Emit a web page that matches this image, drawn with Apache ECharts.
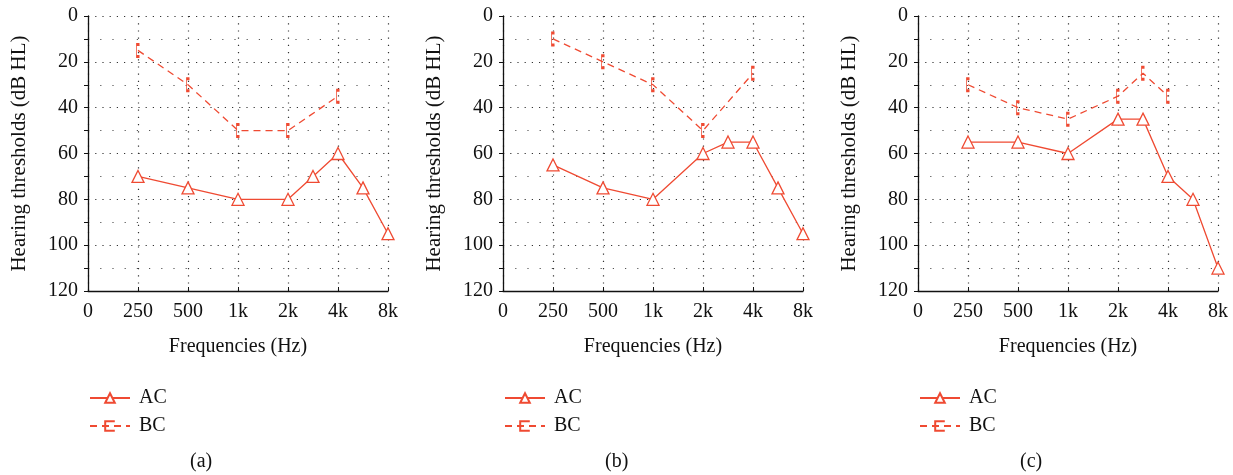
<!DOCTYPE html>
<html>
<head>
<meta charset="utf-8">
<script src="https://cdn.jsdelivr.net/npm/echarts@6/dist/echarts.min.js"></script>
<style>html,body{margin:0;padding:0;background:#fff;}#c{width:1233px;height:475px;}</style>
</head>
<body>
<div id="c"></div>
<script>
// Tick labels for the frequency axis (positions 0..6)
var freqLabels = ['0', '250', '500', '1k', '2k', '4k', '8k'];
// Frequency positions on the axis: 250,500,1k,2k,3k,4k,6k,8k
var acFreqPos = [1, 2, 3, 4, 4.5, 5, 5.5, 6];
var bcFreqPosAB = [1, 2, 3, 4, 5];
var bcFreqPosC = [1, 2, 3, 4, 4.5, 5];

var acA = [70, 75, 80, 80, 70, 60, 75, 95];
var bcA = [15, 30, 50, 50, 35];
var acB = [65, 75, 80, 60, 55, 55, 75, 95];
var bcB = [10, 20, 30, 50, 25];
var acC = [55, 55, 60, 45, 45, 70, 80, 110];
var bcC = [30, 40, 45, 35, 25, 35];
var captions = ['(a)', '(b)', '(c)'];

var RED = '#EF4A32';
var FONT = 'Liberation Serif';
var BRACKET = 'path://M3,0 L0,0 L0,14 L3,14';

function pairs(xs, ys) { return xs.map(function (x, i) { return [x, ys[i]]; }); }

var panels = [
  { left: 88, ac: acA, bc: bcA, bcPos: bcFreqPosAB },
  { left: 503, ac: acB, bc: bcB, bcPos: bcFreqPosAB },
  { left: 918, ac: acC, bc: bcC, bcPos: bcFreqPosC }
];

var grids = [], xAxes = [], yAxes = [], series = [], legends = [], graphics = [];
panels.forEach(function (p, i) {
  grids.push({ left: p.left, top: 16, width: 300, height: 275 });
  xAxes.push({
    gridIndex: i, type: 'value', min: 0, max: 6, interval: 1,
    name: 'Frequencies (Hz)', nameLocation: 'middle', nameGap: 46,
    nameTextStyle: { fontFamily: FONT, fontSize: 20, color: '#111' },
    axisLine: { onZero: false, lineStyle: { color: '#111', width: 1.3 } },
    axisTick: { inside: true, length: 4, lineStyle: { color: '#111' } },
    axisLabel: { fontFamily: FONT, fontSize: 20, color: '#111', margin: 11,
      formatter: function (v) { return freqLabels[v]; } },
    splitLine: { show: true, lineStyle: { color: '#333', type: [1.2, 6], width: 1.2 } }
  });
  yAxes.push({
    gridIndex: i, type: 'value', inverse: true, min: 0, max: 120, interval: 20,
    name: 'Hearing thresholds (dB HL)', nameLocation: 'middle', nameGap: 58,
    nameTextStyle: { fontFamily: FONT, fontSize: 21, color: '#111' },
    axisLine: { show: true, lineStyle: { color: '#111', width: 1.3 } },
    axisTick: { show: true, length: 4, lineStyle: { color: '#111' } },
    minorTick: { show: true, splitNumber: 2, length: 4, lineStyle: { color: '#111' } },
    axisLabel: { fontFamily: FONT, fontSize: 20, color: '#111', margin: 10 },
    splitLine: { show: true, lineStyle: { color: '#333', type: [1.2, 6], width: 1.2 } },
    minorSplitLine: { show: true, lineStyle: { color: '#555', type: [1.2, 11], width: 1.2 } }
  });
  series.push({
    name: 'AC', type: 'line', xAxisIndex: i, yAxisIndex: i,
    data: pairs(acFreqPos, p.ac),
    symbol: 'triangle', symbolSize: 12,
    lineStyle: { color: RED, width: 1.3 },
    itemStyle: { color: '#fff', borderColor: RED, borderWidth: 1.3 },
    emphasis: { disabled: true }, animation: false, z: 3
  });
  series.push({
    name: 'BC', type: 'line', xAxisIndex: i, yAxisIndex: i,
    data: pairs(p.bcPos, p.bc),
    symbol: BRACKET, symbolSize: [3, 12], symbolKeepAspect: false,
    lineStyle: { color: RED, width: 1.3, type: [7, 5] },
    itemStyle: { color: 'rgba(0,0,0,0)', borderColor: RED, borderWidth: 1.5 },
    emphasis: { disabled: true }, animation: false, z: 3
  });
  legends.push({
    orient: 'vertical', left: p.left - 4, top: 383, itemWidth: 40, itemHeight: 12, itemGap: 8,
    data: ['AC', 'BC'], selectedMode: false,
    textStyle: { fontFamily: FONT, fontSize: 20, color: '#111', padding: [0, 0, 0, 4] }
  });
  graphics.push({
    type: 'text', left: p.left + 102, top: 452,
    style: { text: captions[i], fontFamily: FONT, fontSize: 20, fill: '#111', textAlign: 'center' }
  });
});

var chart = echarts.init(document.getElementById('c'), null, { renderer: 'canvas' });
chart.setOption({
  backgroundColor: '#fff',
  animation: false,
  grid: grids, xAxis: xAxes, yAxis: yAxes, series: series, legend: legends, graphic: graphics
});
</script>
</body>
</html>
